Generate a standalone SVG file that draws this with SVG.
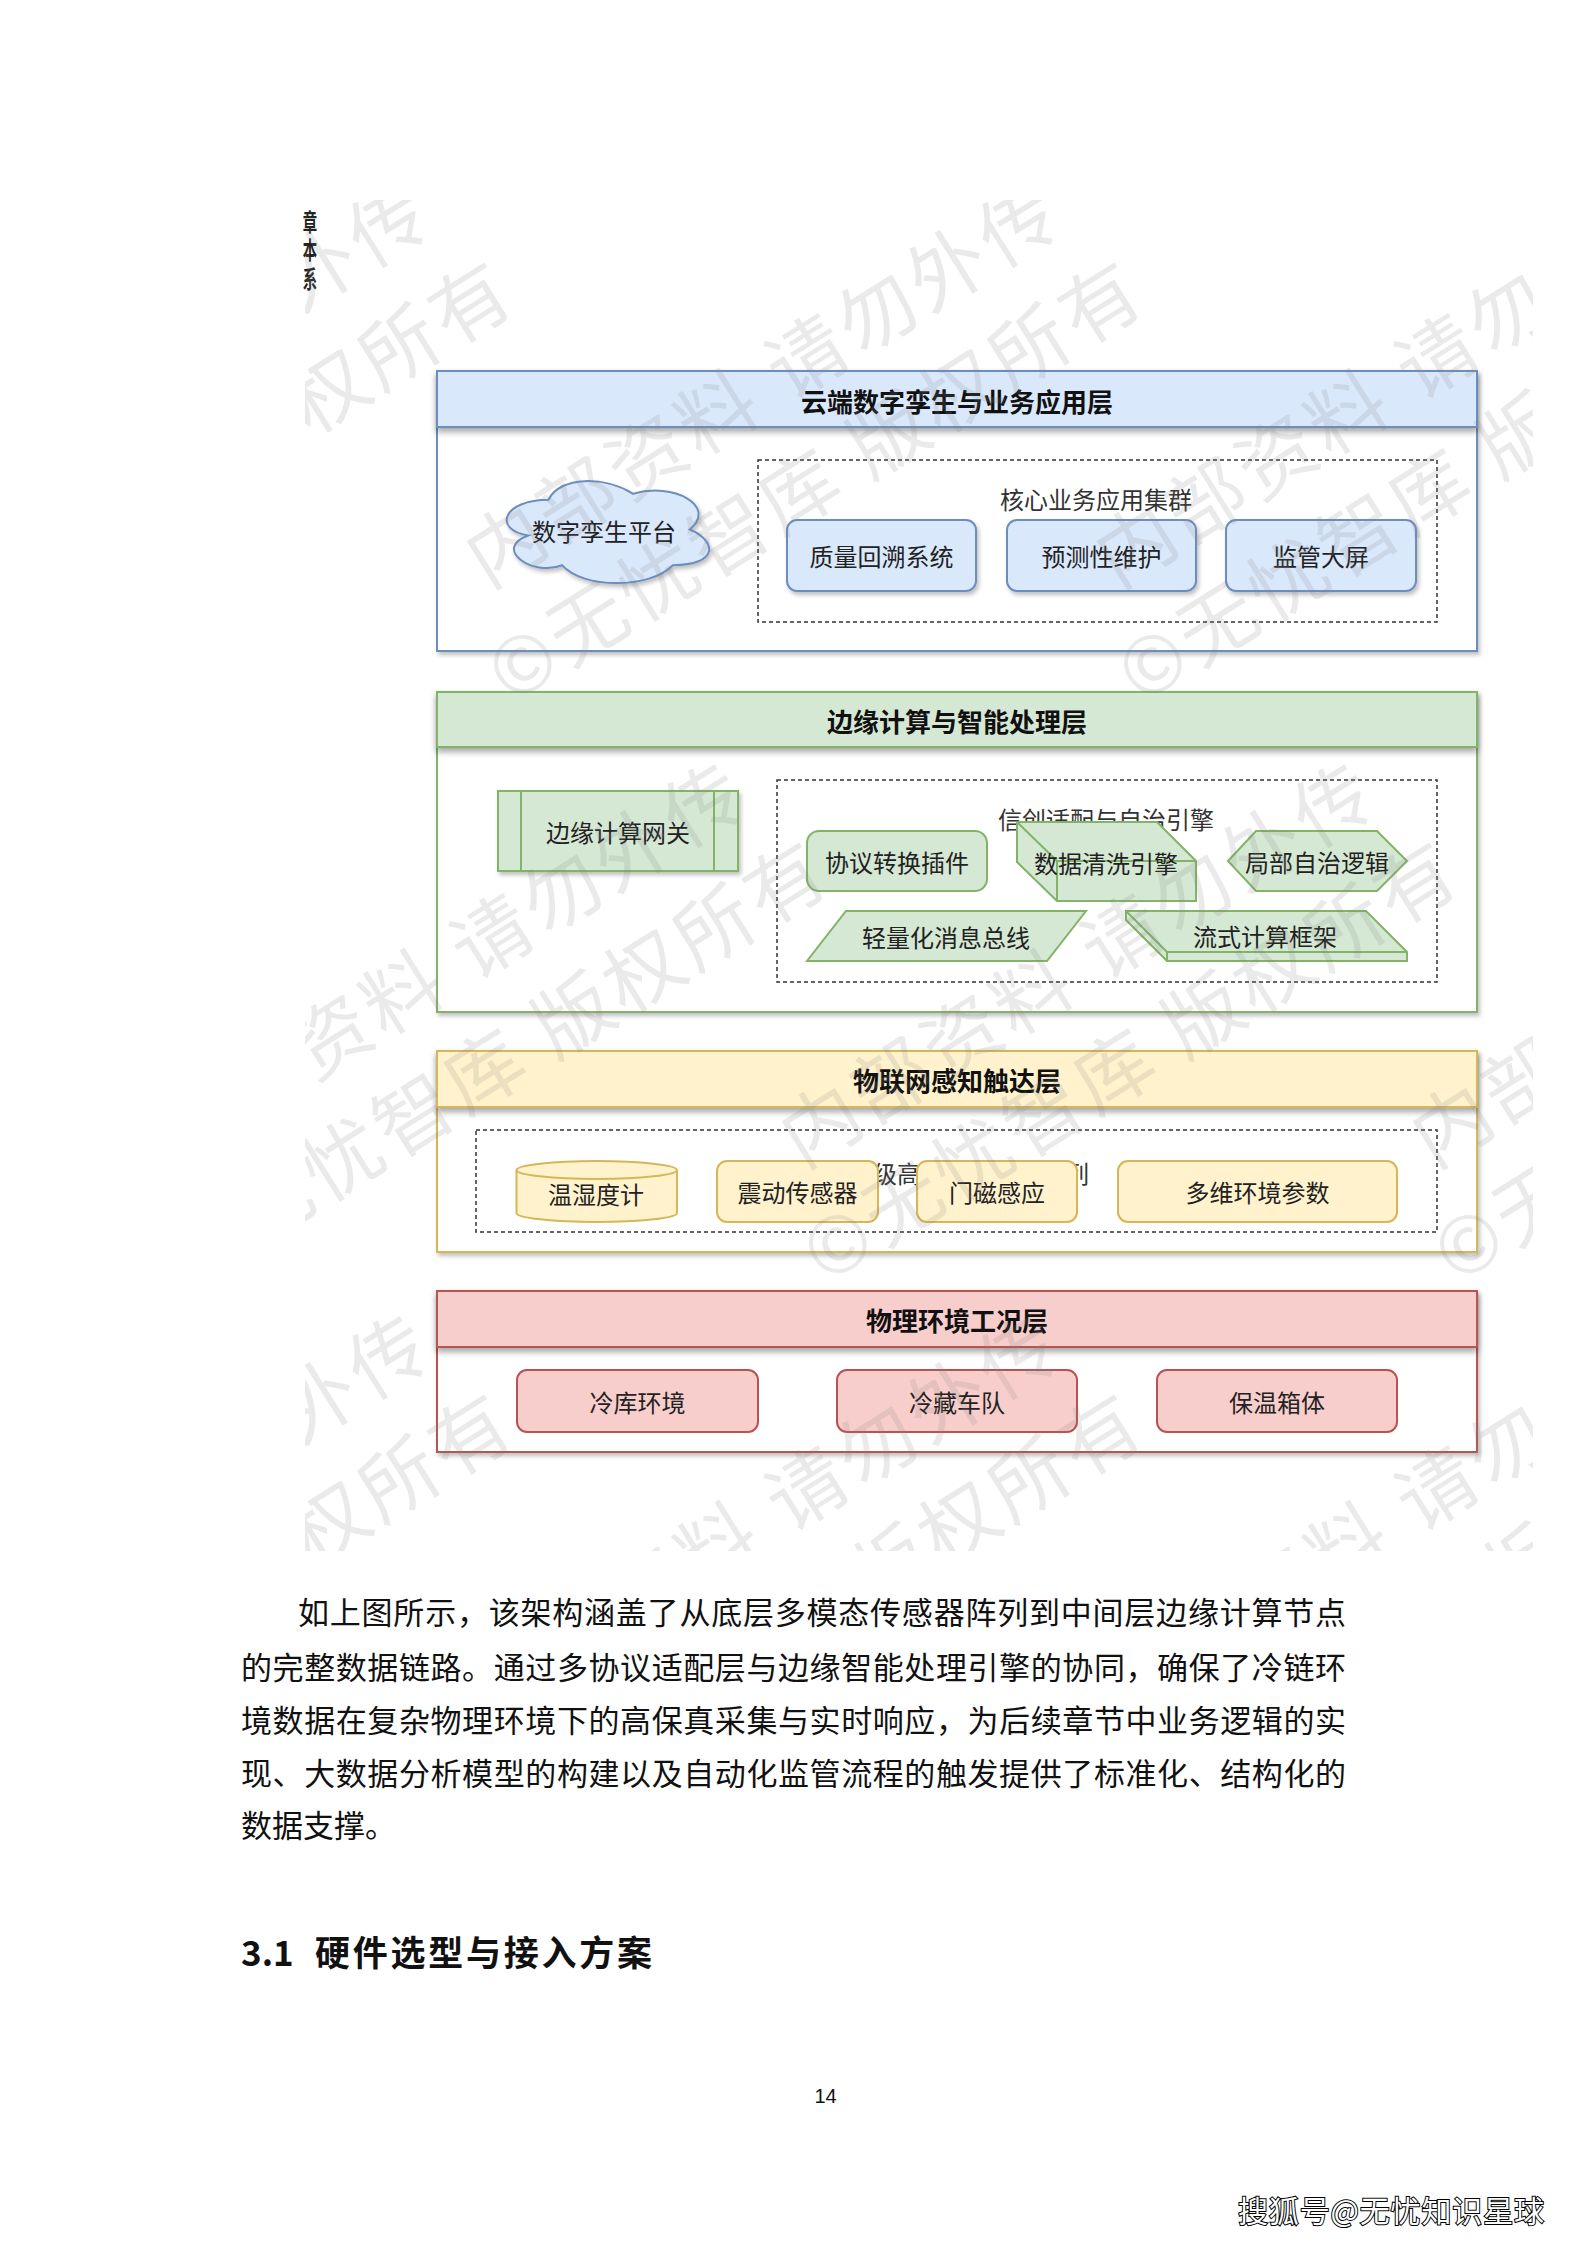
<svg xmlns="http://www.w3.org/2000/svg" width="1587" height="2245" viewBox="0 0 1587 2245">
<defs>
<style>
.t{font-family:"Noto Sans CJK SC","Liberation Sans",sans-serif;fill:#222;}
.hd{font-size:26px;font-weight:bold;fill:#111;}
.lb{font-size:24px;}
.gl{font-size:24px;fill:#333;}
.p{font-family:"Noto Sans CJK SC","Liberation Serif",serif;font-size:31px;fill:#111;}
.blue{fill:#dae8fc;stroke:#6c8ebf;stroke-width:2;}
.green{fill:#d5e8d4;stroke:#82b366;stroke-width:2;}
.yellow{fill:#fff2cc;stroke:#d6b656;stroke-width:2;}
.red{fill:#f8cecc;stroke:#b85450;stroke-width:2;}
.body{fill:#fff;stroke-width:2;}
.dash{fill:none;stroke:#333;stroke-width:1.5;stroke-dasharray:4 3;}
.wm{font-family:"Noto Sans CJK SC",sans-serif;font-size:78px;fill:#808080;fill-opacity:0.17;letter-spacing:5px;}
</style>
<filter id="sh" x="-10%" y="-10%" width="125%" height="140%"><feDropShadow dx="2" dy="3" stdDeviation="2" flood-color="#000" flood-opacity="0.25"/></filter>
<filter id="hsh" x="-5%" y="-20%" width="110%" height="160%"><feDropShadow dx="0" dy="4" stdDeviation="3" flood-color="#000" flood-opacity="0.35"/></filter>
<clipPath id="wmclip"><rect x="305" y="200" width="1228" height="1351"/></clipPath>
</defs>
<rect x="0" y="0" width="1587" height="2245" fill="#fff"/>

<g id="side-text" class="t" font-weight="bold" font-size="24">
<text transform="translate(310,221) scale(0.6,1)" text-anchor="middle" dominant-baseline="central">章</text>
<text transform="translate(310,249) scale(0.6,1)" text-anchor="middle" dominant-baseline="central">本</text>
<text transform="translate(310,278) scale(0.6,1)" text-anchor="middle" dominant-baseline="central">系</text>
</g>

<!-- Layer 1: cloud -->
<g id="layer-cloud">
<rect x="437" y="371" width="1040" height="280" class="body" stroke="#6c8ebf" filter="url(#sh)"/>
<rect x="437" y="371" width="1040" height="56" class="blue" filter="url(#hsh)"/>
<text x="957" y="400" class="t hd" text-anchor="middle" dominant-baseline="central">云端数字孪生与业务应用层</text>
</g>
<g id="twin-platform">
<path class="blue" filter="url(#sh)" d="M548.5,499.75 C503.3,499.75 492,529.5 528.2,535.45 C492,548.5 532.7,577.1 562.1,565.2 C582.4,589 650.2,589 672.8,565.2 C718,565.2 718,541.4 689.75,529.5 C718,505.7 672.8,481.9 633.25,493.8 C605,475.95 559.8,475.95 548.5,499.75 Z"/>
<text x="604" y="530" class="t lb" text-anchor="middle" dominant-baseline="central">数字孪生平台</text>
</g>
<g id="core-apps">
<rect x="758" y="460" width="679" height="162" class="dash"/>
<text x="1096" y="498" class="t gl" text-anchor="middle" dominant-baseline="central">核心业务应用集群</text>
</g>
<g id="quality-trace"><rect x="787" y="520" width="189" height="71" rx="10" class="blue" filter="url(#sh)"/><text x="881.5" y="555.5" class="t lb" text-anchor="middle" dominant-baseline="central">质量回溯系统</text></g>
<g id="predictive"><rect x="1007" y="520" width="189" height="71" rx="10" class="blue" filter="url(#sh)"/><text x="1101.5" y="555.5" class="t lb" text-anchor="middle" dominant-baseline="central">预测性维护</text></g>
<g id="screen"><rect x="1226" y="520" width="190" height="71" rx="10" class="blue" filter="url(#sh)"/><text x="1321" y="555.5" class="t lb" text-anchor="middle" dominant-baseline="central">监管大屏</text></g>

<!-- Layer 2: edge -->
<g id="layer-edge">
<rect x="437" y="692" width="1040" height="320" class="body" stroke="#82b366" filter="url(#sh)"/>
<rect x="437" y="692" width="1040" height="55" class="green" filter="url(#hsh)"/>
<text x="957" y="720" class="t hd" text-anchor="middle" dominant-baseline="central">边缘计算与智能处理层</text>
</g>
<g id="edge-gateway">
<rect x="498" y="791" width="240" height="80" class="green" filter="url(#sh)"/>
<line x1="521" y1="791" x2="521" y2="871" stroke="#82b366" stroke-width="2"/>
<line x1="714" y1="791" x2="714" y2="871" stroke="#82b366" stroke-width="2"/>
<text x="618" y="831" class="t lb" text-anchor="middle" dominant-baseline="central">边缘计算网关</text>
</g>
<g id="xc-engine">
<rect x="777" y="780" width="660" height="202" class="dash"/>
<text x="1106" y="818" class="t gl" text-anchor="middle" dominant-baseline="central">信创适配与自治引擎</text>
</g>
<g id="protocol-plugin"><rect x="807" y="831" width="180" height="60" rx="12" class="green"/><text x="897" y="861" class="t lb" text-anchor="middle" dominant-baseline="central">协议转换插件</text></g>
<g id="data-clean">
<path class="green" d="M1017,822 L1157,822 L1196,861 L1196,901 L1057,901 L1017,862 Z"/>
<path d="M1017,822 L1057,861 L1196,861 M1057,861 L1057,901" fill="none" stroke="#82b366" stroke-width="2"/>
<text x="1106" y="862" class="t lb" text-anchor="middle" dominant-baseline="central">数据清洗引擎</text>
</g>
<g id="local-autonomy"><path class="green" d="M1228,861 L1256,831 L1377,831 L1407,861 L1377,891 L1256,891 Z"/><text x="1317" y="861" class="t lb" text-anchor="middle" dominant-baseline="central">局部自治逻辑</text></g>
<g id="msg-bus"><path class="green" d="M846,911 L1086,911 L1047,961 L807,961 Z"/><text x="946" y="936" class="t lb" text-anchor="middle" dominant-baseline="central">轻量化消息总线</text></g>
<g id="stream-compute">
<path class="green" d="M1126,911 L1366,911 L1407,952 L1407,961 L1167,961 L1126,920 Z"/>
<path d="M1126,911 L1167,952 L1407,952 M1167,952 L1167,961" fill="none" stroke="#82b366" stroke-width="2"/>
<text x="1265" y="935" class="t lb" text-anchor="middle" dominant-baseline="central">流式计算框架</text>
</g>

<!-- Layer 3: IoT -->
<g id="layer-iot">
<rect x="437" y="1051" width="1040" height="201" class="body" stroke="#d6b656" filter="url(#sh)"/>
<rect x="437" y="1051" width="1040" height="56" class="yellow" filter="url(#hsh)"/>
<text x="957" y="1079" class="t hd" text-anchor="middle" dominant-baseline="central">物联网感知触达层</text>
</g>
<g id="sensor-array">
<rect x="476" y="1130" width="961" height="102" class="dash"/>
<text x="957" y="1172" class="t gl" text-anchor="middle" dominant-baseline="central">工业级高精度传感器阵列</text>
</g>
<g id="temp-humidity">
<path class="yellow" d="M516.5,1170 A80.25,9 0 0 1 677,1170 L677,1213 A80.25,9 0 0 1 516.5,1213 Z"/>
<path d="M516.5,1170 A80.25,9 0 0 0 677,1170" fill="none" stroke="#d6b656" stroke-width="2"/>
<text x="596" y="1193" class="t lb" text-anchor="middle" dominant-baseline="central">温湿度计</text>
</g>
<g id="vibration"><rect x="717" y="1161" width="161" height="61" rx="10" class="yellow"/><text x="797.5" y="1191.5" class="t lb" text-anchor="middle" dominant-baseline="central">震动传感器</text></g>
<g id="door-magnet"><rect x="917" y="1161" width="160" height="61" rx="10" class="yellow"/><text x="997" y="1191.5" class="t lb" text-anchor="middle" dominant-baseline="central">门磁感应</text></g>
<g id="multi-env"><rect x="1118" y="1161" width="279" height="61" rx="10" class="yellow"/><text x="1257.5" y="1191.5" class="t lb" text-anchor="middle" dominant-baseline="central">多维环境参数</text></g>

<!-- Layer 4: physical -->
<g id="layer-physical">
<rect x="437" y="1291" width="1040" height="161" class="body" stroke="#b85450" filter="url(#sh)"/>
<rect x="437" y="1291" width="1040" height="56" class="red" filter="url(#hsh)"/>
<text x="957" y="1319" class="t hd" text-anchor="middle" dominant-baseline="central">物理环境工况层</text>
</g>
<g id="cold-storage"><rect x="517" y="1370" width="241" height="62" rx="10" class="red"/><text x="637.5" y="1401" class="t lb" text-anchor="middle" dominant-baseline="central">冷库环境</text></g>
<g id="reefer-fleet"><rect x="837" y="1370" width="240" height="62" rx="10" class="red"/><text x="957" y="1401" class="t lb" text-anchor="middle" dominant-baseline="central">冷藏车队</text></g>
<g id="insulated-box"><rect x="1157" y="1370" width="240" height="62" rx="10" class="red"/><text x="1277" y="1401" class="t lb" text-anchor="middle" dominant-baseline="central">保温箱体</text></g>

<g id="connectors"></g>

<!-- watermark -->
<g id="watermark" clip-path="url(#wmclip)">
<g transform="translate(-126,544) rotate(-32)"><text class="wm" x="-38" y="30">内部资料 请勿外传</text><text class="wm" x="-80" y="140">©无忧智库 版权所有</text></g>
<g transform="translate(504,544) rotate(-32)"><text class="wm" x="-38" y="30">内部资料 请勿外传</text><text class="wm" x="-80" y="140">©无忧智库 版权所有</text></g>
<g transform="translate(1134,544) rotate(-32)"><text class="wm" x="-38" y="30">内部资料 请勿外传</text><text class="wm" x="-80" y="140">©无忧智库 版权所有</text></g>
<g transform="translate(189,1124) rotate(-32)"><text class="wm" x="-38" y="30">内部资料 请勿外传</text><text class="wm" x="-80" y="140">©无忧智库 版权所有</text></g>
<g transform="translate(819,1124) rotate(-32)"><text class="wm" x="-38" y="30">内部资料 请勿外传</text><text class="wm" x="-80" y="140">©无忧智库 版权所有</text></g>
<g transform="translate(1450,1124) rotate(-32)"><text class="wm" x="-38" y="30">内部资料 请勿外传</text><text class="wm" x="-80" y="140">©无忧智库 版权所有</text></g>
<g transform="translate(-126,1676) rotate(-32)"><text class="wm" x="-38" y="30">内部资料 请勿外传</text><text class="wm" x="-80" y="140">©无忧智库 版权所有</text></g>
<g transform="translate(504,1676) rotate(-32)"><text class="wm" x="-38" y="30">内部资料 请勿外传</text><text class="wm" x="-80" y="140">©无忧智库 版权所有</text></g>
<g transform="translate(1134,1676) rotate(-32)"><text class="wm" x="-38" y="30">内部资料 请勿外传</text><text class="wm" x="-80" y="140">©无忧智库 版权所有</text></g>
</g>

<!-- page text -->
<g id="paragraph">
<text class="p" x="298" y="1624" textLength="1048" lengthAdjust="spacing">如上图所示，该架构涵盖了从底层多模态传感器阵列到中间层边缘计算节点</text>
<text class="p" x="241" y="1679" textLength="1105" lengthAdjust="spacing">的完整数据链路。通过多协议适配层与边缘智能处理引擎的协同，确保了冷链环</text>
<text class="p" x="241" y="1732" textLength="1105" lengthAdjust="spacing">境数据在复杂物理环境下的高保真采集与实时响应，为后续章节中业务逻辑的实</text>
<text class="p" x="241" y="1785" textLength="1105" lengthAdjust="spacing">现、大数据分析模型的构建以及自动化监管流程的触发提供了标准化、结构化的</text>
<text class="p" x="241" y="1837">数据支撑。</text>
</g>
<g id="heading" class="t" font-weight="bold" font-size="35">
<text x="241" y="1966" fill="#111">3.1</text>
<text x="315" y="1966" fill="#111" textLength="337" lengthAdjust="spacing">硬件选型与接入方案</text>
</g>
<text id="page-number" x="825.5" y="2103" font-family="Liberation Sans, sans-serif" font-size="20" fill="#111" text-anchor="middle">14</text>
<text id="source-mark" x="1238" y="2222" font-family="Noto Sans CJK SC, sans-serif" font-size="30" fill="#fff" stroke="#000" stroke-width="2" paint-order="stroke" textLength="306" lengthAdjust="spacing">搜狐号@无忧知识星球</text>
</svg>
